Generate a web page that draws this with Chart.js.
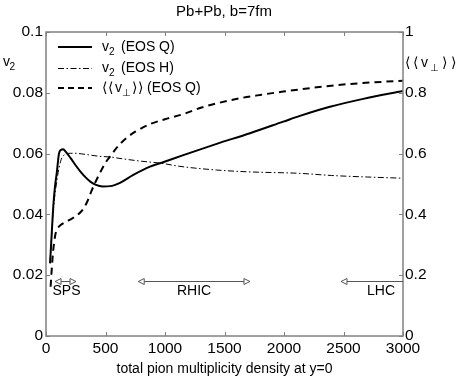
<!DOCTYPE html>
<html><head><meta charset="utf-8">
<script src="https://cdn.jsdelivr.net/npm/chart.js@4.4.1/dist/chart.umd.min.js"></script>
<style>html,body{margin:0;padding:0;background:#fff}canvas{display:block}</style>
</head><body>
<canvas id="c" width="463" height="382"></canvas>
<script>
// ---- data ----
const xTickLabels = ['0','500','1000','1500','2000','2500','3000'];
const yTickLabels = ['0','0.02','0.04','0.06','0.08','0.1'];
const y2TickLabels = ['0','0.2','0.4','0.6','0.8','1'];

const v2QMult = [34,47,61,75,90,109,125,143,170,207,252,291,335,375,420,476,540,622,734,874,972,1154,1434,1714,1994,2134,2386,2666,3000];
const v2QVal  = [0.0239,0.033,0.0425,0.049,0.0535,0.0600,0.0612,0.0614,0.0604,0.0585,0.0560,0.0540,0.0521,0.0507,0.0497,0.0492,0.0493,0.0504,0.0530,0.0557,0.0570,0.0595,0.0632,0.0667,0.0705,0.0724,0.0754,0.0780,0.0806];

const v2HMult = [34,61,95,123,151,207,252,300,454,538,622,800,972,1126,1434,1700,2134,2400,2700,3000];
const v2HVal  = [0.024,0.041,0.052,0.0575,0.0595,0.0601,0.0601,0.0599,0.0591,0.0589,0.0584,0.0575,0.0568,0.0558,0.0546,0.0540,0.0535,0.0528,0.0523,0.0519];

const vPerpMult = [39,50,61,81,100,123,160,207,250,290,320,350,380,420,454,500,538,600,678,750,874,1000,1154,1294,1434,1630,1800,1994,2275,2555,3000];
const vPerpVal  = [0.162,0.230,0.283,0.338,0.355,0.365,0.374,0.384,0.394,0.407,0.422,0.445,0.475,0.510,0.537,0.570,0.590,0.622,0.652,0.672,0.697,0.713,0.730,0.750,0.765,0.782,0.793,0.804,0.818,0.829,0.840];

const regionNames  = ['SPS','RHIC','LHC'];
const regionFrom   = [76,775,2479];
const regionTo     = [252,1714,3000];
const regionHeadL  = [true,true,true];
const regionHeadR  = [true,true,false];
const regionLabelX = [172,1244,2815];
const regionArrowY = 0.0181;
const regionLabelY = 0.0149;

const FONT = "'Liberation Sans', 'DejaVu Sans', sans-serif";
const AXIS_COL = '#808080';

function pts(xs, ys){ return xs.map((x,i)=>({x:x, y:ys[i]})); }

function drawParts(ctx, x0, y, parts, size){
  parts.forEach(p=>{
    const sub = p[2];
    ctx.font = (sub ? size*0.72 : size) + 'px ' + FONT;
    ctx.fillText(p[0], x0 + p[1], sub ? y + size*0.38 : y);
  });
}

const overlay = {
  id:'overlay',
  afterDraw(chart){
    const ctx = chart.ctx, a = chart.chartArea;
    const sx = chart.scales.x, sy = chart.scales.y, sy2 = chart.scales.y2;
    ctx.save();
    ctx.strokeStyle = AXIS_COL; ctx.lineWidth = 1.5; ctx.setLineDash([]);
    ctx.strokeRect(a.left, a.top, a.right-a.left, a.bottom-a.top);
    ctx.lineWidth = 1;
    const tl = 4;
    sx.ticks.forEach(t=>{
      const px = Math.round(sx.getPixelForValue(t.value))+0.5;
      ctx.beginPath(); ctx.moveTo(px,a.bottom); ctx.lineTo(px,a.bottom-tl);
      ctx.moveTo(px,a.top); ctx.lineTo(px,a.top+tl); ctx.stroke();
    });
    sy.ticks.forEach(t=>{
      const py = Math.round(sy.getPixelForValue(t.value))+0.5;
      ctx.beginPath(); ctx.moveTo(a.left,py); ctx.lineTo(a.left+tl,py); ctx.stroke();
    });
    sy2.ticks.forEach(t=>{
      const py = Math.round(sy2.getPixelForValue(t.value))+0.5;
      ctx.beginPath(); ctx.moveTo(a.right,py); ctx.lineTo(a.right-tl,py); ctx.stroke();
    });

    ctx.strokeStyle = '#555'; ctx.lineWidth = 1;
    const ay = Math.round(sy.getPixelForValue(regionArrowY))+0.5;
    regionNames.forEach((n,i)=>{
      const x1 = sx.getPixelForValue(regionFrom[i]);
      const x2 = sx.getPixelForValue(regionTo[i]);
      ctx.beginPath(); ctx.moveTo(x1,ay); ctx.lineTo(x2,ay); ctx.stroke();
      if(regionHeadL[i]){
        ctx.beginPath(); ctx.moveTo(x1,ay); ctx.lineTo(x1+6,ay-3); ctx.lineTo(x1+6,ay+3); ctx.closePath();
        ctx.fillStyle='#fff'; ctx.fill(); ctx.stroke();
      }
      if(regionHeadR[i]){
        ctx.beginPath(); ctx.moveTo(x2,ay); ctx.lineTo(x2-6,ay-3); ctx.lineTo(x2-6,ay+3); ctx.closePath();
        ctx.fillStyle='#fff'; ctx.fill(); ctx.stroke();
      }
      ctx.fillStyle = '#000';
      ctx.font = '14px ' + FONT; ctx.textAlign='center'; ctx.textBaseline='middle';
      ctx.fillText(n, sx.getPixelForValue(regionLabelX[i]), sy.getPixelForValue(regionLabelY));
    });

    ctx.fillStyle = '#000'; ctx.textAlign='center'; ctx.textBaseline='middle';
    ctx.font = '15px ' + FONT;
    ctx.fillText('Pb+Pb, b=7fm', 224, 12);
    ctx.font = '14px ' + FONT;
    ctx.fillText('total pion multiplicity density at y=0', 224.5, 369);

    ctx.textAlign='left';
    drawParts(ctx, 3, 62, [['v',0,false],['2',6.5,true]], 14);
    drawParts(ctx, 405, 63, [['\u27E8',0,false],['\u27E8',8,false],['v',16,false],['\u22A5',25,true],['\u27E9',37,false],['\u27E9',46,false]], 14);

    const lx1 = 58, lx2 = 92, rows = [47,68,88];
    ctx.strokeStyle = '#000';
    ctx.lineWidth = 2; ctx.setLineDash([]);
    ctx.beginPath(); ctx.moveTo(lx1,rows[0]); ctx.lineTo(lx2,rows[0]); ctx.stroke();
    ctx.lineWidth = 1; ctx.setLineDash([6,2.5,1.5,2.5]);
    ctx.beginPath(); ctx.moveTo(lx1,rows[1]+0.5); ctx.lineTo(lx2,rows[1]+0.5); ctx.stroke();
    ctx.lineWidth = 2; ctx.setLineDash([6,4]);
    ctx.beginPath(); ctx.moveTo(lx1,rows[2]); ctx.lineTo(lx2,rows[2]); ctx.stroke();
    ctx.setLineDash([]);
    ctx.fillStyle = '#000';
    drawParts(ctx, 102, rows[0], [['v',0,false],['2',7,true],['(EOS Q)',19,false]], 14);
    drawParts(ctx, 102, rows[1], [['v',0,false],['2',7,true],['(EOS H)',19,false]], 14);
    drawParts(ctx, 102, rows[2], [['\u27E8',0,false],['\u27E8',6,false],['v',13,false],['\u22A5',20,true],['\u27E9',30,false],['\u27E9',36,false],['(EOS Q)',45,false]], 14);
    ctx.restore();
  }
};

Chart.defaults.font.family = FONT;
Chart.defaults.color = '#000';

new Chart(document.getElementById('c'), {
  type:'scatter',
  data:{ datasets:[
    { label:'v2 (EOS Q)', data:pts(v2QMult,v2QVal), yAxisID:'y', showLine:true, borderColor:'#000', borderWidth:2, pointRadius:0, cubicInterpolationMode:'monotone', fill:false },
    { label:'v2 (EOS H)', data:pts(v2HMult,v2HVal), yAxisID:'y', showLine:true, borderColor:'#000', borderWidth:1, borderDash:[6,2.5,1.5,2.5], pointRadius:0, cubicInterpolationMode:'monotone', fill:false },
    { label:'<<v_perp>> (EOS Q)', data:pts(vPerpMult,vPerpVal), yAxisID:'y2', showLine:true, borderColor:'#000', borderWidth:2, borderDash:[7,5], pointRadius:0, cubicInterpolationMode:'monotone', fill:false }
  ]},
  options:{
    responsive:false, animation:false, devicePixelRatio:1,
    layout:{ padding:{ top:32, left:0, right:0, bottom:0 } },
    plugins:{ legend:{display:false}, tooltip:{enabled:false}, title:{display:false} },
    scales:{
      x:{ type:'linear', min:0, max:3000, position:'bottom',
          ticks:{ stepSize:500, padding:3, maxRotation:0, autoSkip:false, font:{size:15.5}, color:'#000',
                  callback:(v,i)=>xTickLabels[i] },
          grid:{ display:false, drawTicks:false }, border:{ display:false },
          afterFit:(s)=>{ s.height = 46; } },
      y:{ type:'linear', min:0, max:0.1, position:'left',
          ticks:{ stepSize:0.02, padding:3, autoSkip:false, font:{size:15.5}, color:'#000',
                  callback:(v,i)=>yTickLabels[i] },
          grid:{ display:false, drawTicks:false }, border:{ display:false },
          afterFit:(s)=>{ s.width = 46; } },
      y2:{ type:'linear', min:0, max:1, position:'right',
          ticks:{ stepSize:0.2, padding:2, autoSkip:false, font:{size:15.5}, color:'#000',
                  callback:(v,i)=>y2TickLabels[i] },
          grid:{ display:false, drawTicks:false }, border:{ display:false },
          afterFit:(s)=>{ s.width = 60; } }
    }
  },
  plugins:[overlay]
});
</script>
</body></html>
